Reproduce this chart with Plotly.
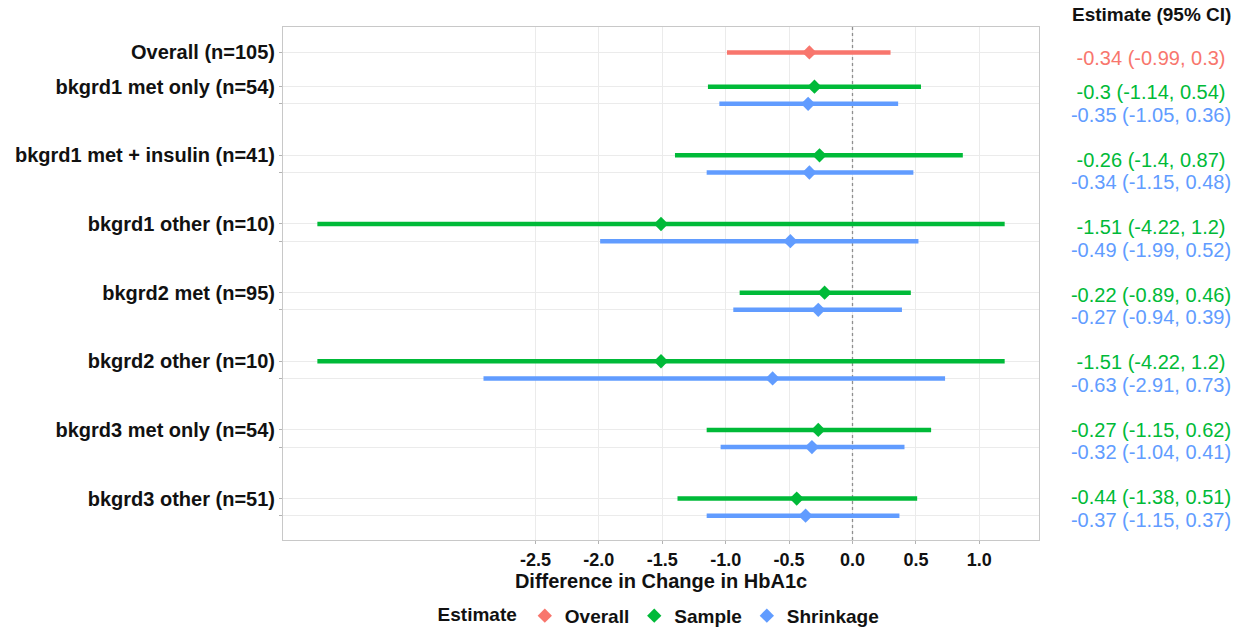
import plotly.graph_objects as go

# ---- data ----
groups = ["bkgrd1 met only (n=54)", "bkgrd1 met + insulin (n=41)", "bkgrd1 other (n=10)",
          "bkgrd2 met (n=95)", "bkgrd2 other (n=10)", "bkgrd3 met only (n=54)", "bkgrd3 other (n=51)"]
overall_label = "Overall (n=105)"
overall_est = [-0.34]
overall_lo = [-0.99]
overall_hi = [0.3]

sample_est = [-0.3, -0.26, -1.51, -0.22, -1.51, -0.27, -0.44]
sample_lo = [-1.14, -1.4, -4.22, -0.89, -4.22, -1.15, -1.38]
sample_hi = [0.54, 0.87, 1.2, 0.46, 1.2, 0.62, 0.51]

shrink_est = [-0.35, -0.34, -0.49, -0.27, -0.63, -0.32, -0.37]
shrink_lo = [-1.05, -1.15, -1.99, -0.94, -2.91, -1.04, -1.15]
shrink_hi = [0.36, 0.48, 0.52, 0.39, 0.73, 0.41, 0.37]

x_ticks = [-2.5, -2.0, -1.5, -1.0, -0.5, 0.0, 0.5, 1.0]
ref_value = 0.0

# ---- style ----
C_OVERALL = "#F8766D"
C_SAMPLE = "#00BA38"
C_SHRINK = "#619CFF"
FONT = "Liberation Sans, Arial, sans-serif"
SHRINK_OFF = 0.25
TEXT_OFF = 0.335
OVERALL_POS = 0.5
X_RANGE = [-4.491, 1.471]
Y_RANGE = [7.604, 0.13]

n = len(groups)
y_sample = [i + 1 for i in range(n)]
y_shrink = [i + 1 + SHRINK_OFF for i in range(n)]
y_overall = [OVERALL_POS]


def fmt(v):
    return f"{v:.2f}".rstrip("0").rstrip(".")


def label(e, lo, hi):
    return f"{fmt(e)} ({fmt(lo)}, {fmt(hi)})"


fig = go.Figure()

# zero reference line (drawn first so it sits under the estimates)
fig.add_trace(go.Scatter(
    x=[ref_value, ref_value], y=Y_RANGE, mode="lines", showlegend=False, hoverinfo="skip",
    line=dict(color="#8F8F8F", width=1.3, dash="dot"), xaxis="x", yaxis="y",
))


def add_series(name, est, lo, hi, ys, color):
    fig.add_trace(go.Scatter(
        x=est, y=ys, mode="markers", name=f"<b>{name}</b>",
        marker=dict(symbol="diamond", size=11, color=color),
        error_x=dict(type="data", symmetric=False,
                     array=[h - e for e, h in zip(est, hi)],
                     arrayminus=[e - l for e, l in zip(est, lo)],
                     thickness=4.5, width=0, color=color),
        xaxis="x", yaxis="y",
    ))


add_series("Overall", overall_est, overall_lo, overall_hi, y_overall, C_OVERALL)
add_series("Sample", sample_est, sample_lo, sample_hi, y_sample, C_SAMPLE)
add_series("Shrinkage", shrink_est, shrink_lo, shrink_hi, y_shrink, C_SHRINK)

# text panel
t_y = [OVERALL_POS] + y_sample + [i + 1 + TEXT_OFF for i in range(n)]
t_txt = ([label(overall_est[0], overall_lo[0], overall_hi[0])]
         + [label(e, l, h) for e, l, h in zip(sample_est, sample_lo, sample_hi)]
         + [label(e, l, h) for e, l, h in zip(shrink_est, shrink_lo, shrink_hi)])
t_col = [C_OVERALL] + [C_SAMPLE] * n + [C_SHRINK] * n
fig.add_trace(go.Scatter(
    x=[0.5] * len(t_y), y=t_y, mode="text", text=t_txt,
    textfont=dict(family=FONT, size=20, color=t_col),
    textposition="middle center", showlegend=False, hoverinfo="skip",
    cliponaxis=False, xaxis="x2", yaxis="y2",
))

fig.add_annotation(text="<b>Estimate (95% CI)</b>", xref="x2", yref="paper",
                   x=0.5, y=1.0234, yanchor="middle", showarrow=False,
                   font=dict(family=FONT, size=19, color="#111111"))

y_tickvals = [OVERALL_POS] + y_sample + y_shrink
y_ticktext = ["<b>" + overall_label + "</b>"] + ["<b>" + g + "</b>" for g in groups] + [""] * n

fig.update_layout(
    width=1245, height=629,
    margin=dict(l=283, r=0, t=27, b=89),
    paper_bgcolor="white", plot_bgcolor="white",
    font=dict(family=FONT, color="#111111"),
    xaxis=dict(domain=[0, 0.7859], range=X_RANGE,
               tickvals=x_ticks, ticktext=[f"<b>{v:.1f}</b>" for v in x_ticks],
               tickfont=dict(size=18, color="#111111"),
               showgrid=True, gridcolor="#EBEBEB", gridwidth=1,
               zeroline=False, showline=True, mirror=True, linecolor="#C8C8C8", linewidth=1,
               ticks="outside", ticklen=3, tickcolor="#B3B3B3",
               title=dict(text="<b>Difference in Change in HbA1c</b>",
                          font=dict(size=20, color="#111111"), standoff=2)),
    yaxis=dict(range=Y_RANGE, tickvals=y_tickvals, ticktext=y_ticktext,
               tickfont=dict(size=20, color="#111111"),
               showgrid=True, gridcolor="#EBEBEB", gridwidth=1,
               zeroline=False, showline=True, mirror=True, linecolor="#C8C8C8", linewidth=1,
               ticks="outside", ticklen=3, tickcolor="#B3B3B3"),
    xaxis2=dict(domain=[0.8046, 1.0], range=[0, 1], visible=False, anchor="y2"),
    yaxis2=dict(domain=[0, 1], range=[7.604, 0.004], visible=False, anchor="x2"),
    legend=dict(orientation="h", x=0.392, xanchor="center",
                yref="container", y=0.021, yanchor="middle",
                title=dict(text="<b>Estimate</b>", side="left", font=dict(size=19)),
                font=dict(size=19, color="#111111"), bgcolor="rgba(0,0,0,0)",
                itemwidth=30, tracegroupgap=0),
    showlegend=True,
)

fig.write_html("out.html", config={"displayModeBar": False},
               post_script="document.body.style.margin='0';")
